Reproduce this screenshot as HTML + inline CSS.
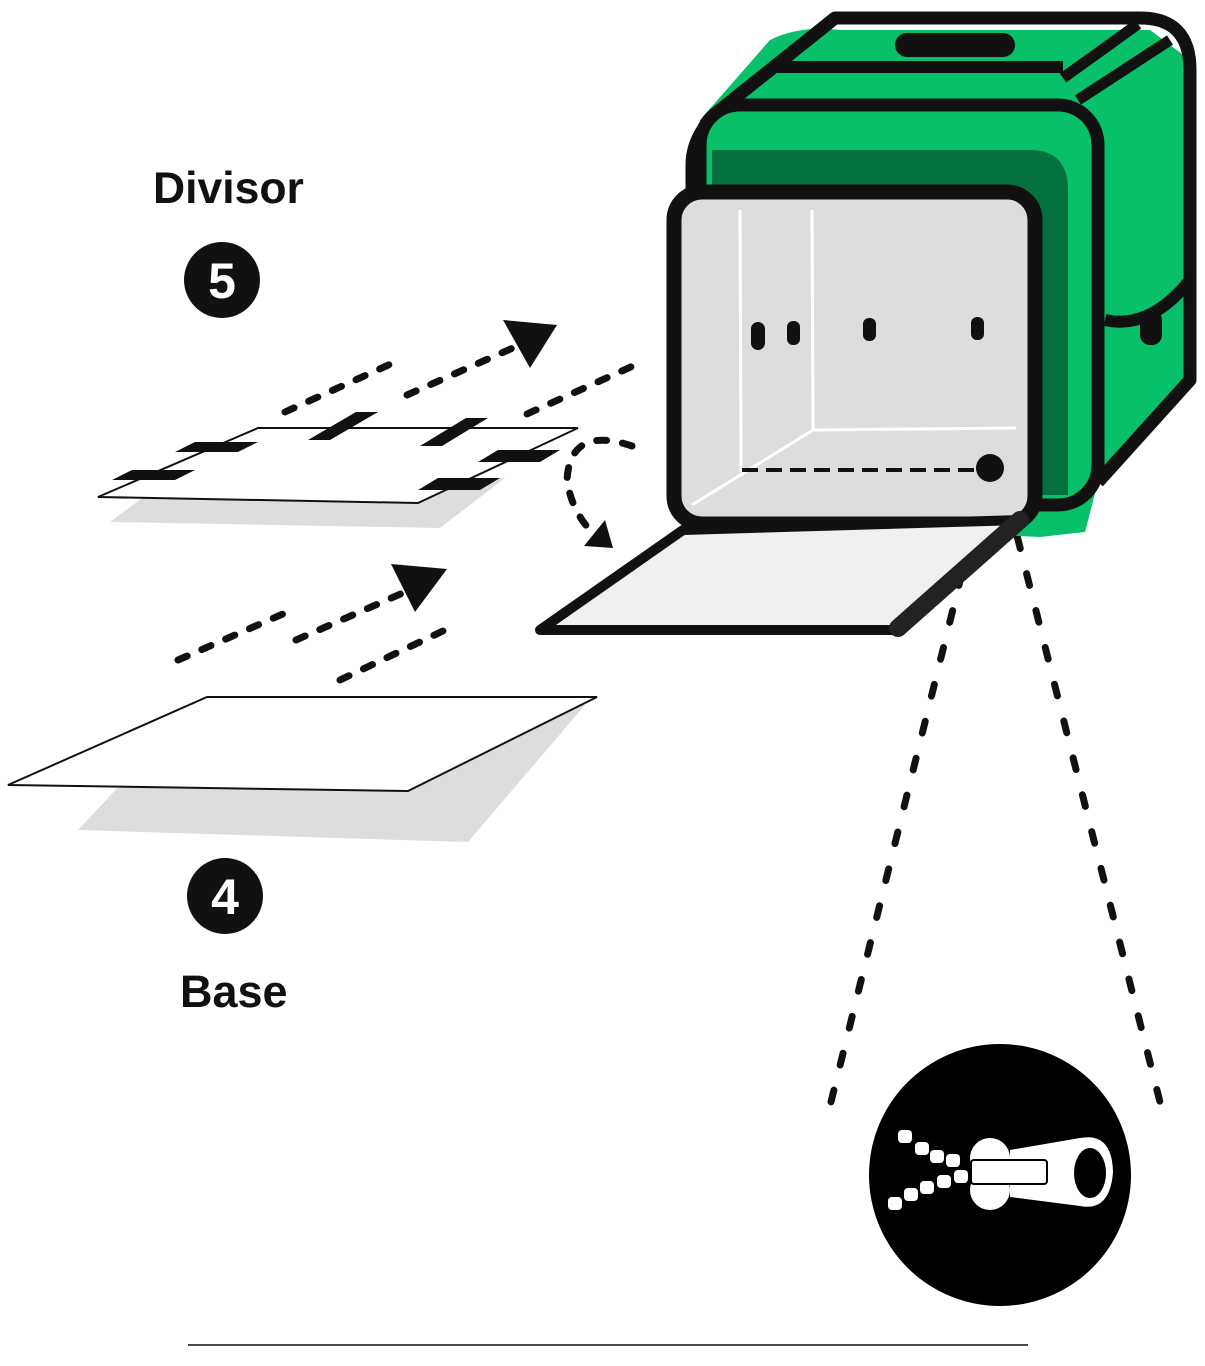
<!DOCTYPE html>
<html><head><meta charset="utf-8"><style>
html,body{margin:0;padding:0;background:#fff;}
svg{display:block}
text{font-family:"Liberation Sans",sans-serif;font-weight:bold}
</style></head><body>
<svg width="1205" height="1366" viewBox="0 0 1205 1366" xmlns="http://www.w3.org/2000/svg">
<text x="153" y="203" font-size="44.5" fill="#111">Divisor</text>
<circle cx="222" cy="280" r="38" fill="#111"/>
<text x="222" y="298" font-size="50" fill="#fff" text-anchor="middle" font-weight="normal">5</text>
<circle cx="225" cy="896" r="38" fill="#111"/>
<text x="225" y="914" font-size="50" fill="#fff" text-anchor="middle" font-weight="normal">4</text>
<text x="180" y="1007" font-size="45" fill="#111">Base</text>

<polygon points="110,522 440,528 505,478 172,476" fill="#ddd"/>
<polygon points="98,497 418,503 578,428 258,428" fill="#fff" stroke="#111" stroke-width="2"/>
<g fill="#111">
<polygon points="112,480 175,480 195,470 132,470"/>
<polygon points="175,452 238,452 258,442 195,442"/>
<polygon points="308,440 330,440 378,412 356,412"/>
<polygon points="420,446 442,446 488,418 466,418"/>
<polygon points="418,490 480,490 500,478 438,478"/>
<polygon points="478,462 540,462 560,450 498,450"/>
</g>
<polygon points="78,830 468,842 585,705 195,705" fill="#ddd"/>
<polygon points="8,785 408,791 597,697 207,697" fill="#fff" stroke="#111" stroke-width="2"/>

<g stroke="#111" stroke-width="7" stroke-linecap="round" stroke-dasharray="10,16" fill="none">
<line x1="285" y1="412" x2="395" y2="362"/>
<line x1="407" y1="395" x2="515" y2="347"/>
<line x1="527" y1="414" x2="635" y2="365"/>
<path d="M632,446 Q570,425 567,480 Q572,515 598,538"/>
<line x1="178" y1="660" x2="292" y2="610"/>
<line x1="296" y1="640" x2="405" y2="592"/>
<line x1="340" y1="680" x2="445" y2="630"/>
</g>
<g fill="#111">
<polygon points="503,320 557,325 530,368"/>
<polygon points="391,564 447,569 415,612"/>
<polygon points="584,546 613,548 605,520"/>
</g>

<g stroke="#111" stroke-width="7" stroke-linecap="round" stroke-dasharray="12,26" fill="none">
<line x1="980" y1="500" x2="829" y2="1110"/>
<line x1="1008" y1="500" x2="1162" y2="1110"/>
</g>

<!-- box -->
<path d="M770,40 Q800,25 840,30 L1150,30 L1190,60 L1190,380 L1098,482 L1085,532 L1040,537 L690,520 L700,120 Z" fill="#08c06a"/>
<path d="M835,18 L1140,18 Q1190,18 1190,70 L1190,380 L1098,482" fill="none" stroke="#111" stroke-width="13" stroke-linejoin="round"/>
<path d="M835,18 L720,110 Q692,135 692,165 L692,190" fill="none" stroke="#111" stroke-width="13" stroke-linecap="round"/>
<line x1="770" y1="67" x2="1063" y2="67" stroke="#111" stroke-width="12"/>
<line x1="1063" y1="78" x2="1138" y2="24" stroke="#111" stroke-width="11"/>
<line x1="1078" y1="100" x2="1170" y2="40" stroke="#111" stroke-width="11"/>
<rect x="895" y="33" width="120" height="24" rx="12" fill="#111"/>
<path d="M1105,320 Q1150,330 1190,280" fill="none" stroke="#111" stroke-width="12"/>
<rect x="1140" y="310" width="22" height="35" rx="10" fill="#111"/>
<rect x="700" y="105" width="398" height="400" rx="40" fill="#08c06a" stroke="#111" stroke-width="13"/>
<path d="M712,150 L1030,150 Q1068,150 1068,190 L1068,495 L712,495 Z" fill="#047040"/>
<rect x="674" y="192" width="361" height="332" rx="28" fill="#ddd" stroke="#111" stroke-width="15"/>
<g stroke="#fff" stroke-width="3" fill="none">
<line x1="740" y1="210" x2="741" y2="472"/>
<line x1="812" y1="210" x2="813" y2="430"/>
<line x1="813" y1="430" x2="1016" y2="428"/>
<line x1="813" y1="430" x2="692" y2="505"/>
</g>
<g fill="#111">
<rect x="751" y="322" width="14" height="28" rx="7"/>
<rect x="787" y="321" width="13" height="24" rx="6"/>
<rect x="863" y="318" width="13" height="23" rx="6"/>
<rect x="971" y="317" width="13" height="23" rx="6"/>
<circle cx="990" cy="468" r="14"/>
</g>
<line x1="742" y1="470" x2="975" y2="470" stroke="#111" stroke-width="4" stroke-dasharray="16,8"/>
<polygon points="540,630 683,530 1020,520 898,630" fill="#f0f0f0" stroke="#111" stroke-width="10" stroke-linejoin="round"/>
<line x1="898" y1="628" x2="1020" y2="520" stroke="#222" stroke-width="18" stroke-linecap="round"/>

<circle cx="1000" cy="1175" r="131" fill="#000"/>
<g fill="#fff">
<path d="M1010,1150 L1080,1138 Q1112,1132 1113,1172 Q1110,1212 1080,1206 L1010,1197 Z"/>
<ellipse cx="1090" cy="1173" rx="16" ry="25" fill="#000"/>
<ellipse cx="990" cy="1158" rx="20" ry="20"/>
<ellipse cx="990" cy="1190" rx="20" ry="20"/>
<rect x="971" y="1160" width="76" height="24" rx="3" stroke="#000" stroke-width="2"/>
<rect x="898" y="1130" width="14" height="13" rx="4"/>
<rect x="915" y="1142" width="14" height="13" rx="4"/>
<rect x="930" y="1150" width="14" height="13" rx="4"/>
<rect x="946" y="1154" width="14" height="13" rx="4"/>
<rect x="888" y="1197" width="14" height="13" rx="4"/>
<rect x="904" y="1188" width="14" height="13" rx="4"/>
<rect x="920" y="1181" width="14" height="13" rx="4"/>
<rect x="937" y="1175" width="14" height="13" rx="4"/>
<rect x="954" y="1170" width="14" height="13" rx="4"/>
</g>

<line x1="188" y1="1345" x2="1028" y2="1345" stroke="#111" stroke-width="1.5"/>
</svg>
</body></html>
